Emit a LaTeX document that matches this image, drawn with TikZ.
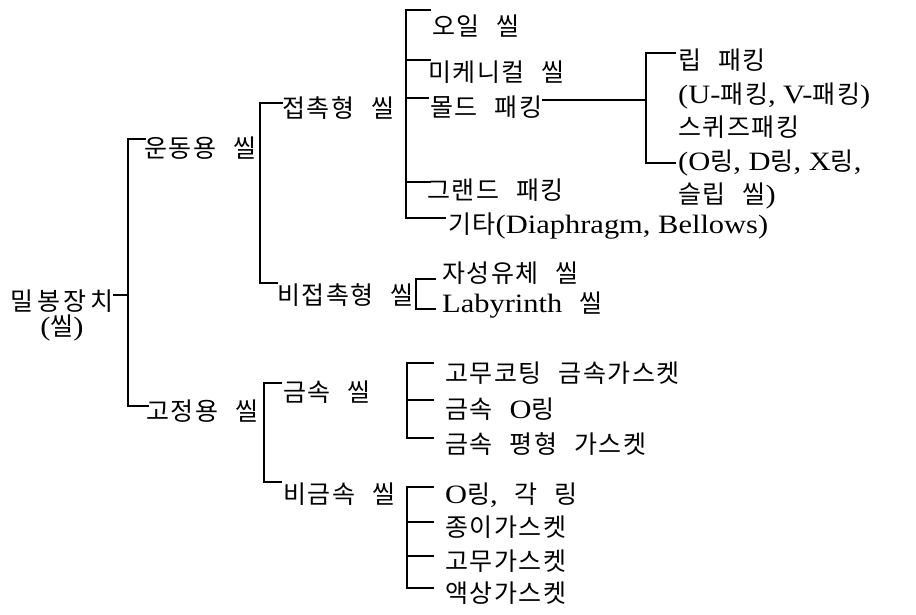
\documentclass[tikz,border=0pt]{standalone}
\usepackage{fontspec}
\setmainfont{Noto Sans CJK KR}[WordSpace=2.4,LetterSpace=6]
\newfontfamily\rootfont{Noto Sans CJK KR}[LetterSpace=15]
\newfontfamily\latinserif{Liberation Serif}[Scale=1.06,FakeStretch=1.15]
\newcommand\ltn[1]{{\latinserif #1}}
\begin{document}
\begin{tikzpicture}[x=1pt,y=-1pt,
  every node/.style={inner sep=0pt,anchor=west,font=\fontsize{25}{33.5}\selectfont},
  link/.style={line width=1.5pt,line cap=rect}]
\useasboundingbox (0,0) rectangle (916,615);

% ---- labels ----
\node[anchor=center,align=center,font=\fontsize{25}{25}\rootfont] (root) at (62,315) {밀봉장치\\\ltn{(}씰\ltn{)}};
\node (mov) at (144,148) {운동용 씰};
\node (fix) at (146,411) {고정용 씰};

\node (cont) at (282,108) {접촉형 씰};
\node (ncont) at (277,295) {비접촉형 씰};

\node (oil) at (432,26) {오일 씰};
\node (mech) at (428,72) {미케니컬 씰};
\node (mold) at (430,107) {몰드 패킹};
\node (gland) at (427,190) {그랜드 패킹};
\node (etc) at (448,226) {기타\ltn{(Diaphragm, Bellows)}};

\node[anchor=north west,align=left] (lip) at (678,49)
  {립 패킹\\\ltn{(U-}패킹\ltn{, V-}패킹\ltn{)}\\스퀴즈패킹\\\ltn{(O}링\ltn{, D}링\ltn{, X}링\ltn{,}\\슬립 씰\ltn{)}};

\node (magn) at (442,273) {자성유체 씰};
\node (laby) at (442,305) {\ltn{Labyrinth} 씰};

\node (metal) at (283,392) {금속 씰};
\node (nonmetal) at (283,494) {비금속 씰};

\node (m1) at (445,373) {고무코팅 금속가스켓};
\node (m2) at (445,409) {금속 \ltn{O}링};
\node (m3) at (445,444) {금속 평형 가스켓};

\node (n1) at (445,495) {\ltn{O}링\ltn{,} 각 링};
\node (n2) at (445,527) {종이가스켓};
\node (n3) at (445,561) {고무가스켓};
\node (n4) at (445,593) {액상가스켓};

% ---- bracket joints ----
\coordinate (j-root) at (128,295);
\coordinate (s-mov) at (145,139);
\coordinate (s-fix) at (148,406);

\coordinate (s-cont) at (282,103);
\coordinate (s-ncont) at (277,283);

\coordinate (s-oil) at (430,10);
\coordinate (s-mech) at (430,60);
\coordinate (s-mold) at (428,98);
\coordinate (s-gland) at (430,182);
\coordinate (s-etc) at (445,218);

\coordinate (j-lip) at (646,100);
\coordinate (s-lip1) at (675,53);
\coordinate (s-lip2) at (675,163);

\coordinate (s-magn) at (435,279);
\coordinate (s-laby) at (435,309);

\coordinate (s-metal) at (281,383);
\coordinate (s-nonmetal) at (281,482);

\coordinate (s-m1) at (433,363);
\coordinate (s-m2) at (433,400);
\coordinate (s-m3) at (433,438);

\coordinate (s-n1) at (433,487);
\coordinate (s-n2) at (433,522);
\coordinate (s-n3) at (433,556);
\coordinate (s-n4) at (433,588);

% ---- connectors ----
\draw[link] (root.east |- j-root) -- (j-root);
\draw[link] (s-mov) -| (j-root) |- (s-fix);

\draw[link] (s-cont) -| (260,283) -- (s-ncont);

\draw[link] (s-oil) -| (406,218) -- (s-etc);
\draw[link] (406,60) -- (s-mech);
\draw[link] (406,98) -- (s-mold);
\draw[link] (406,182) -- (s-gland);

\draw[link] (mold.east |- j-lip) -- (j-lip);
\draw[link] (s-lip1) -| (j-lip) |- (s-lip2);

\draw[link] (s-magn) -| (416,309) -- (s-laby);

\draw[link] (s-metal) -| (264,482) -- (s-nonmetal);

\draw[link] (s-m1) -| (407,438) -- (s-m3);
\draw[link] (407,400) -- (s-m2);

\draw[link] (s-n1) -| (407,588) -- (s-n4);
\draw[link] (407,522) -- (s-n2);
\draw[link] (407,556) -- (s-n3);
\end{tikzpicture}
\end{document}
